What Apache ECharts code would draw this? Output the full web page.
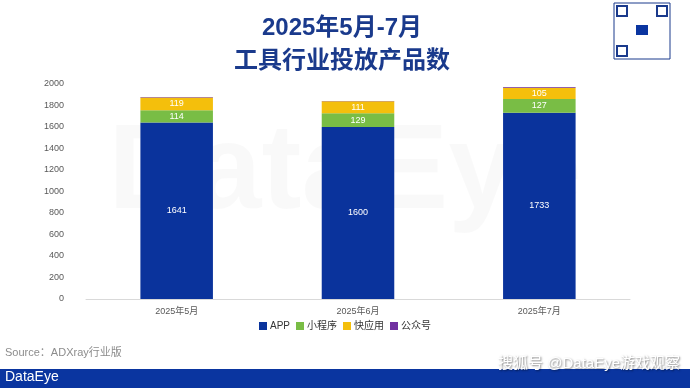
<!DOCTYPE html>
<html><head><meta charset="utf-8">
<script src="https://cdn.jsdelivr.net/npm/echarts@6/dist/echarts.min.js"></script>
<style>html,body{margin:0;padding:0;background:#fff}#c{width:690px;height:388px}</style>
</head><body><div id="c"></div>
<script>
const categories = ['2025年5月','2025年6月','2025年7月'];
const appVals = [1641,1600,1733];
const miniVals = [114,129,127];
const quickVals = [119,111,105];
const gzhVals = [5,3,7];
const yTicks = [0,200,400,600,800,1000,1200,1400,1600,1800,2000];

const chart = echarts.init(document.getElementById('c'));
const font = '"Liberation Sans","Noto Sans CJK SC",sans-serif';
function s(name, data, color, showLabel){
  return {name, type:'bar', stack:'t', data, barWidth:'40%',
    itemStyle:{color},
    label:{show:showLabel, color:'#fff', fontSize:9, fontFamily:font, position:'inside'}};
}
chart.setOption({
  animation:false,
  textStyle:{fontFamily:font},
  title:{text:'2025年5月-7月\n工具行业投放产品数', left:337, textAlign:'center', top:7,
    textStyle:{fontSize:24, fontWeight:'bold', color:'#1a3a8c', lineHeight:33, fontFamily:font}},
  grid:{left:86, right:60, top:84, bottom:89},
  legend:{bottom:52, left:'center', itemWidth:8, itemHeight:8, itemGap:6, icon:'rect',
    textStyle:{fontSize:10, color:'#333', padding:[0,0,0,-2]},
    data:['APP','小程序','快应用','公众号']},
  xAxis:{type:'category', data:categories,
    axisLine:{lineStyle:{color:'#d9d9d9'}}, axisTick:{show:false},
    axisLabel:{fontSize:9, color:'#595959', margin:8}},
  yAxis:{type:'value', min:yTicks[0], max:yTicks[yTicks.length-1], interval:200,
    splitLine:{show:false}, axisLine:{show:false}, axisTick:{show:false},
    axisLabel:{fontSize:9, color:'#595959', margin:22, formatter:v=>String(v)}},
  series:[
    s('APP', appVals, '#0a339c', true),
    s('小程序', miniVals, '#79bd45', true),
    s('快应用', quickVals, '#f4bf0c', true),
    s('公众号', gzhVals, '#7030a0', false)
  ],
  graphic:[
    {type:'text', left:'center', top:115, z:-1, style:{text:'DataEye', fontSize:120, fontWeight:'bold', fill:'rgba(0,0,0,0.025)', fontFamily:font}},
    {type:'text', left:5, top:347, style:{text:'Source：ADXray行业版', fontSize:11, fill:'#8c8c8c', fontFamily:font}},
    {type:'rect', shape:{x:0, y:369, width:690, height:19}, style:{fill:'#0a35a0'}},
    {type:'text', left:5, top:370, style:{text:'DataEye', fontSize:14, fill:'#fff', fontFamily:font}},
    {type:'text', right:10, top:356, z:10, style:{text:'搜狐号 @DataEye游戏观察', fontSize:15, fill:'#fff', fontFamily:font, textShadowColor:'rgba(0,0,0,0.5)', textShadowBlur:2, textShadowOffsetX:1, textShadowOffsetY:1}},
    {type:'rect', shape:{x:614, y:3, width:56, height:56}, style:{fill:'#fff', stroke:'#1a3a8c', lineWidth:1}},
    {type:'rect', shape:{x:617, y:6, width:10, height:10}, style:{fill:'none', stroke:'#1a3a8c', lineWidth:2}},
    {type:'rect', shape:{x:657, y:6, width:10, height:10}, style:{fill:'none', stroke:'#1a3a8c', lineWidth:2}},
    {type:'rect', shape:{x:617, y:46, width:10, height:10}, style:{fill:'none', stroke:'#1a3a8c', lineWidth:2}},
    {type:'rect', shape:{x:636, y:25, width:12, height:10}, style:{fill:'#0a35a0'}}
  ]
});
</script></body></html>
